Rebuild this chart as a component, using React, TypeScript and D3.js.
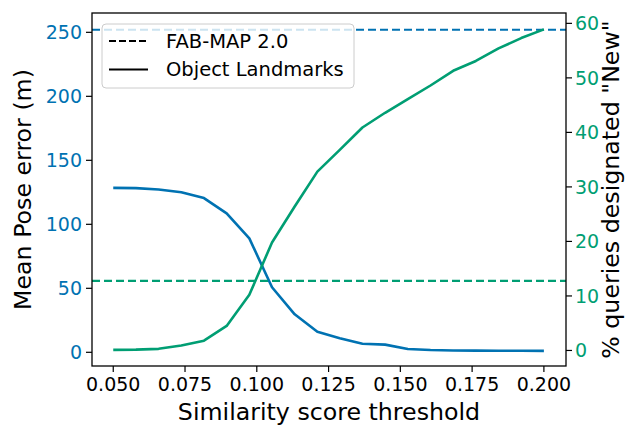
import * as d3 from "d3";
import React from "react";

// similarity score thresholds (20 steps from 0.05 to 0.2)
const thresholds = [
  0.05, 0.0579, 0.0658, 0.0737, 0.0816, 0.0895, 0.0974, 0.1053, 0.1132, 0.1211,
  0.1289, 0.1368, 0.1447, 0.1526, 0.1605, 0.1684, 0.1763, 0.1842, 0.1921, 0.2,
];
// mean pose error (m), object landmarks
const poseError = [
  128.5, 128.3, 127.2, 125, 120.5, 108.6, 89, 50.8, 29.7, 16, 11, 6.7, 6, 2.6,
  1.8, 1.4, 1.3, 1.2, 1.2, 1.1,
];
// % queries designated "New", object landmarks
const pctNew = [
  0.1, 0.15, 0.3, 0.9, 1.8, 4.5, 10.2, 19.8, 26.4, 32.8, 36.8, 40.9, 43.6, 46.1,
  48.6, 51.3, 53.1, 55.4, 57.3, 58.9,
];
// FAB-MAP 2.0 reference values
const fabmapError = 252;
const fabmapNew = 12.75;

const xTickVals = [0.05, 0.075, 0.1, 0.125, 0.15, 0.175, 0.2];
const leftTickVals = [0, 50, 100, 150, 200, 250];
const rightTickVals = [0, 10, 20, 30, 40, 50, 60];

const legendItems = [
  { label: "FAB-MAP 2.0", dash: "7 3" },
  { label: "Object Landmarks", dash: "" },
];

const BLUE = "#0072B2";
const GREEN = "#009E73";
const FONT = "DejaVu Sans";

export default function App() {
  const width = 626;
  const height = 427;
  const left = 92;
  const right = 566;
  const top = 13;
  const bottom = 366;

  const x = d3.scaleLinear().domain([0.0426, 0.2077]).range([left, right]);
  const yL = d3.scaleLinear().domain([-10.7, 265.1]).range([bottom, top]);
  const yR = d3.scaleLinear().domain([-2.85, 61.9]).range([bottom, top]);

  const blueLine = d3
    .line<number>()
    .x((d, i) => x(thresholds[i]))
    .y((d) => yL(d));
  const greenLine = d3
    .line<number>()
    .x((d, i) => x(thresholds[i]))
    .y((d) => yR(d));

  const tickFs = 19;
  const labelFs = 23.7;

  return (
    <svg
      width={width}
      height={height}
      style={{ position: "absolute", left: 0, top: 0, background: "#fff" }}
      fontFamily={FONT}
    >
      {/* FAB-MAP error reference */}
      <line
        x1={left}
        x2={right}
        y1={yL(fabmapError)}
        y2={yL(fabmapError)}
        stroke={BLUE}
        strokeWidth={2.2}
        strokeDasharray="8 4"
      />
      <path d={blueLine(poseError) || ""} fill="none" stroke={BLUE} strokeWidth={2.6} strokeLinejoin="round" />
      <path d={greenLine(pctNew) || ""} fill="none" stroke={GREEN} strokeWidth={2.6} strokeLinejoin="round" />
      {/* FAB-MAP % new reference */}
      <line
        x1={left}
        x2={right}
        y1={yR(fabmapNew)}
        y2={yR(fabmapNew)}
        stroke={GREEN}
        strokeWidth={2.2}
        strokeDasharray="8 4"
      />

      {/* frame */}
      <rect x={left} y={top} width={right - left} height={bottom - top} fill="none" stroke="#000" strokeWidth={1.3} />

      {/* x axis */}
      {xTickVals.map((t) => (
        <g key={t}>
          <line x1={x(t)} x2={x(t)} y1={bottom} y2={bottom + 6} stroke="#000" strokeWidth={1.2} />
          <text x={x(t)} y={bottom + 24.5} textAnchor="middle" fontSize={tickFs} fill="#000">
            {t.toFixed(3)}
          </text>
        </g>
      ))}
      <text x={(left + right) / 2} y={420} textAnchor="middle" fontSize={labelFs} fill="#000">
        Similarity score threshold
      </text>

      {/* left axis */}
      {leftTickVals.map((t) => (
        <g key={t}>
          <line x1={left - 6} x2={left} y1={yL(t)} y2={yL(t)} stroke="#000" strokeWidth={1.2} />
          <text x={left - 10} y={yL(t)} dy="0.35em" textAnchor="end" fontSize={tickFs} fill={BLUE}>
            {t}
          </text>
        </g>
      ))}
      <text
        transform={`translate(31,${(top + bottom) / 2}) rotate(-90)`}
        textAnchor="middle"
        fontSize={labelFs}
        fill="#000"
      >
        Mean Pose error (m)
      </text>

      {/* right axis */}
      {rightTickVals.map((t) => (
        <g key={t}>
          <line x1={right} x2={right + 6} y1={yR(t)} y2={yR(t)} stroke="#000" strokeWidth={1.2} />
          <text x={right + 9} y={yR(t)} dy="0.35em" textAnchor="start" fontSize={tickFs} fill={GREEN}>
            {t}
          </text>
        </g>
      ))}
      <text
        transform={`translate(619,${(top + bottom) / 2}) rotate(-90)`}
        textAnchor="middle"
        fontSize={labelFs}
        fill="#000"
      >
        % queries designated "New"
      </text>

      {/* legend */}
      <rect x={102} y={24} width={252} height={64} rx={4} fill="#fff" fillOpacity={0.8} stroke="#ccc" strokeWidth={1} />
      {legendItems.map((d, i) => (
        <g key={d.label}>
          <line
            x1={109}
            x2={148}
            y1={41 + i * 28.5}
            y2={41 + i * 28.5}
            stroke="#000"
            strokeWidth={2}
            strokeDasharray={d.dash}
          />
          <text x={166} y={41 + i * 28.5} dy="0.35em" fontSize={19.5} fill="#000">
            {d.label}
          </text>
        </g>
      ))}
    </svg>
  );
}
